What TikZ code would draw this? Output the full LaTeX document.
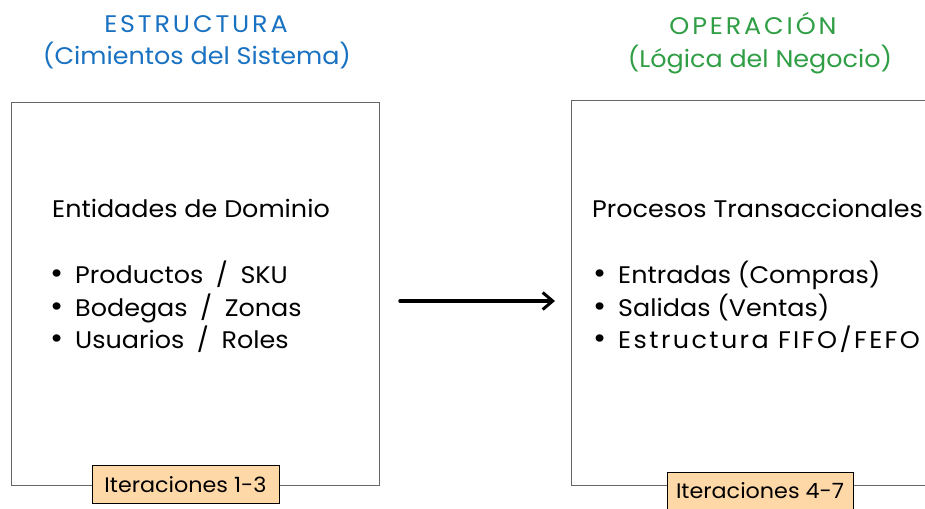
\documentclass[tikz,border=0pt]{standalone}
\usepackage{fontspec}
\setmainfont[FakeStretch=1.06]{Poppins}
\usetikzlibrary{arrows.meta}
\definecolor{titleblue}{HTML}{1971C2}
\definecolor{titlegreen}{HTML}{2F9E44}
\definecolor{badgefill}{HTML}{FFD8A8}
\newcommand{\barra}{\hspace{12.5pt}/\hspace{12.5pt}}
\newcommand{\punto}{\makebox[25pt][l]{\fontsize{30}{30}\selectfont\textbullet}}
\begin{document}
\begin{tikzpicture}[x=1pt,y=-1pt,
    box/.style={draw=black!60,line width=1pt},
    badge/.style={draw=black,fill=badgefill,line width=1pt,inner sep=0pt,
      minimum height=38pt,font=\fontsize{21}{24}\selectfont},
    txt/.style={anchor=base west,inner sep=0pt,font=\fontsize{24}{28}\selectfont},
    ttl/.style={anchor=base,inner sep=0pt,font=\fontsize{24}{28}\selectfont},
    caps/.style={ttl,font=\fontsize{24}{28}\selectfont\addfontfeature{LetterSpace=12}}]
  \useasboundingbox (0,0) rectangle (925,508);
  \clip (0,0) rectangle (925,508);
  % titles
  \node[caps,text=titleblue] (estrT) at (196,33) {ESTRUCTURA};
  \node[ttl,text=titleblue] (estrS) at (197,65) {(Cimientos del Sistema)};
  \node[caps,text=titlegreen] (operT) at (753,35) {OPERACIÓN};
  \node[ttl,text=titlegreen] (operS) at (760,68) {(Lógica del Negocio)};
  % boxes
  \draw[box] (11,103) rectangle (379,485);
  \draw[box] (571,101) rectangle (1000,485);
  % left content
  \node[txt] (entid) at (52,217) {Entidades de Dominio};
  \node[txt] (prod) at (50,283) {\punto Productos\barra SKU};
  \node[txt] (bode) at (50,316) {\punto Bodegas\barra Zonas};
  \node[txt] (usua) at (50,348) {\punto Usuarios\barra Roles};
  % right content
  \node[txt] (proc) at (592,217) {Procesos Transaccionales};
  \node[txt] (entr) at (593,283) {\punto Entradas (Compras)};
  \node[txt] (sali) at (593,316) {\punto Salidas (Ventas)};
  \node[txt] (fifo) at (593,348) {\punto{\addfontfeature{LetterSpace=10}Estructura FIFO/FEFO}};
  % badges
  \node[badge,minimum width=187pt] (iter1) at (185.5,484.5) {Iteraciones 1-3};
  \node[badge,minimum width=186pt] (iter2) at (760,491) {Iteraciones 4-7};
  % flow
  \coordinate (from) at (400,301);
  \coordinate (to) at (555,301);
  \draw[line width=3.5pt,line cap=round,-{Straight Barb[length=10pt,width=17pt,line width=3pt]}] (from) -- (to);
\end{tikzpicture}
\end{document}
